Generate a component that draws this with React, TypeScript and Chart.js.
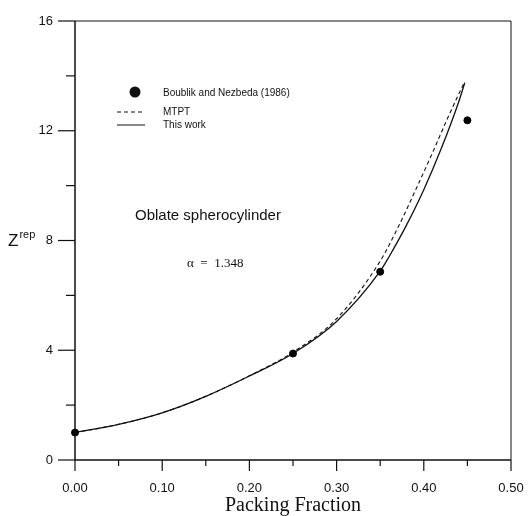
import React, { useEffect, useRef } from "react";
import { Chart, registerables } from "chart.js";

Chart.register(...registerables);

// Simulation data (Boublik and Nezbeda, 1986)
const simX = [0.0, 0.25, 0.35, 0.45];
const simY = [1.0, 3.88, 6.86, 12.38];

// MTPT (dashed)
const mtptX = [0.0, 0.05, 0.1, 0.15, 0.2, 0.25, 0.3, 0.35, 0.37, 0.39, 0.41, 0.43, 0.447];
const mtptY = [1.0, 1.3, 1.72, 2.32, 3.07, 3.93, 5.15, 7.25, 8.45, 9.8, 11.2, 12.65, 13.8];

// This work (solid)
const workX = [0.0, 0.05, 0.1, 0.15, 0.2, 0.25, 0.3, 0.35, 0.36, 0.38, 0.4, 0.42, 0.44, 0.447];
const workY = [1.0, 1.3, 1.72, 2.32, 3.06, 3.88, 5.05, 6.88, 7.4, 8.55, 9.85, 11.35, 13.05, 13.75];

const xTicks = [0, 0.1, 0.2, 0.3, 0.4, 0.5];
const yTicks = [0, 4, 8, 12, 16];

const legendLabels = ["Boublik and Nezbeda (1986)", "MTPT", "This work"];
const annotationTitle = "Oblate spherocylinder";
const annotationAlpha = "\u03b1  =  1.348";
const yTitle = "Z";
const yTitleSup = "rep";
const xTitle = "Packing Fraction";

const toPts = (xs: number[], ys: number[]) => xs.map((x, i) => ({ x, y: ys[i] }));

const SANS = "'Liberation Sans', Arial, sans-serif";
const SERIF = "'Liberation Serif', 'Times New Roman', serif";

const framePlugin = {
  id: "framePlugin",
  afterDraw(chart: any) {
    const ctx = chart.ctx as CanvasRenderingContext2D;
    const { left, right, top, bottom } = chart.chartArea;
    const xs = chart.scales.x;
    const ys = chart.scales.y;
    ctx.save();
    ctx.strokeStyle = "#111";
    // frame
    ctx.lineWidth = 1.5;
    ctx.beginPath();
    ctx.moveTo(left, top);
    ctx.lineTo(left, bottom);
    ctx.lineTo(right, bottom);
    ctx.stroke();
    ctx.lineWidth = 1;
    ctx.beginPath();
    ctx.moveTo(left, top);
    ctx.lineTo(right, top);
    ctx.lineTo(right, bottom);
    ctx.stroke();
    // y ticks
    ctx.lineWidth = 1.2;
    for (let v = 0; v <= 16; v += 2) {
      const py = ys.getPixelForValue(v);
      const len = v % 4 === 0 ? 17 : 9;
      ctx.beginPath();
      ctx.moveTo(left - len, py);
      ctx.lineTo(left, py);
      ctx.stroke();
    }
    // x ticks
    for (let i = 0; i <= 10; i++) {
      const v = i * 0.05;
      const px = xs.getPixelForValue(v);
      const len = i % 2 === 0 ? 11 : 6;
      ctx.beginPath();
      ctx.moveTo(px, bottom);
      ctx.lineTo(px, bottom + len);
      ctx.stroke();
    }
    // y title with superscript
    const yMid = ys.getPixelForValue(8);
    ctx.fillStyle = "#111";
    ctx.textBaseline = "alphabetic";
    ctx.textAlign = "left";
    ctx.font = `17px ${SANS}`;
    ctx.fillText(yTitle, 8, yMid + 5);
    const zw = ctx.measureText(yTitle).width;
    ctx.font = `11px ${SANS}`;
    ctx.fillText(yTitleSup, 8 + zw + 1, yMid - 3);

    // legend
    const lx = left + 42;
    const ly = top + 71;
    ctx.beginPath();
    ctx.arc(lx + 18, ly, 5.5, 0, Math.PI * 2);
    ctx.fill();
    ctx.font = `10px ${SANS}`;
    ctx.textBaseline = "middle";
    ctx.fillText(legendLabels[0], lx + 46, ly + 1);
    // MTPT
    ctx.lineWidth = 1;
    ctx.setLineDash([4, 3]);
    ctx.beginPath();
    ctx.moveTo(lx, ly + 20);
    ctx.lineTo(lx + 28, ly + 20);
    ctx.stroke();
    ctx.setLineDash([]);
    ctx.fillText(legendLabels[1], lx + 46, ly + 20);
    // This work
    ctx.beginPath();
    ctx.moveTo(lx, ly + 33);
    ctx.lineTo(lx + 28, ly + 33);
    ctx.stroke();
    ctx.fillText(legendLabels[2], lx + 46, ly + 33);

    // annotations
    ctx.font = `15px ${SANS}`;
    ctx.fillText(annotationTitle, left + 60, top + 195);
    ctx.font = `13px ${SERIF}`;
    ctx.fillText(annotationAlpha, left + 112, top + 243);
    ctx.restore();
  },
};

export default function App() {
  const ref = useRef<HTMLCanvasElement>(null);
  useEffect(() => {
    if (!ref.current) return;
    const chart = new Chart(ref.current, {
      type: "scatter",
      data: {
        datasets: [
          {
            label: legendLabels[0],
            data: toPts(simX, simY),
            showLine: false,
            pointRadius: 3.5,
            pointBackgroundColor: "#000",
            pointBorderColor: "#000",
            clip: false as any,
          },
          {
            label: legendLabels[1],
            data: toPts(mtptX, mtptY),
            showLine: true,
            borderColor: "#111",
            borderWidth: 1.1,
            borderDash: [4, 3],
            pointRadius: 0,
            cubicInterpolationMode: "monotone",
            clip: false as any,
          },
          {
            label: legendLabels[2],
            data: toPts(workX, workY),
            showLine: true,
            borderColor: "#111",
            borderWidth: 1.3,
            pointRadius: 0,
            cubicInterpolationMode: "monotone",
            clip: false as any,
          },
        ],
      },
      options: {
        animation: false,
        responsive: false,
        maintainAspectRatio: false,
        layout: { padding: { left: 0, top: 21, right: 17, bottom: 0 } },
        plugins: { legend: { display: false }, tooltip: { enabled: false } },
        scales: {
          x: {
            type: "linear",
            min: 0,
            max: 0.5,
            afterBuildTicks: (axis: any) => {
              axis.ticks = xTicks.map((v) => ({ value: v }));
            },
            afterFit: (axis: any) => {
              axis.height = 56;
              axis.paddingLeft = 0;
              axis.paddingRight = 0;
            },
            grid: { display: false, drawTicks: false },
            border: { display: false },
            ticks: {
              padding: 21,
              color: "#111",
              font: { family: SANS, size: 13 },
              maxRotation: 0,
              callback: (v: any) => Number(v).toFixed(2),
            },
            title: {
              display: true,
              text: xTitle,
              color: "#111",
              font: { family: SERIF, size: 20, lineHeight: 1 },
              padding: { top: 0, bottom: 0 },
            },
          },
          y: {
            type: "linear",
            min: 0,
            max: 16,
            afterBuildTicks: (axis: any) => {
              axis.ticks = yTicks.map((v) => ({ value: v }));
            },
            afterFit: (axis: any) => {
              axis.width = 75;
              axis.paddingTop = 0;
              axis.paddingBottom = 0;
            },
            grid: { display: false, drawTicks: false },
            border: { display: false },
            ticks: {
              padding: 22,
              color: "#111",
              font: { family: SANS, size: 13 },
              callback: (v: any) => String(v),
            },
          },
        },
      },
      plugins: [framePlugin],
    });
    return () => chart.destroy();
  }, []);
  return (
    <div style={{ position: "absolute", left: 0, top: 0, width: 528, height: 516, background: "#fff" }}>
      <canvas ref={ref} width={528} height={516} style={{ width: 528, height: 516 }} />
    </div>
  );
}
